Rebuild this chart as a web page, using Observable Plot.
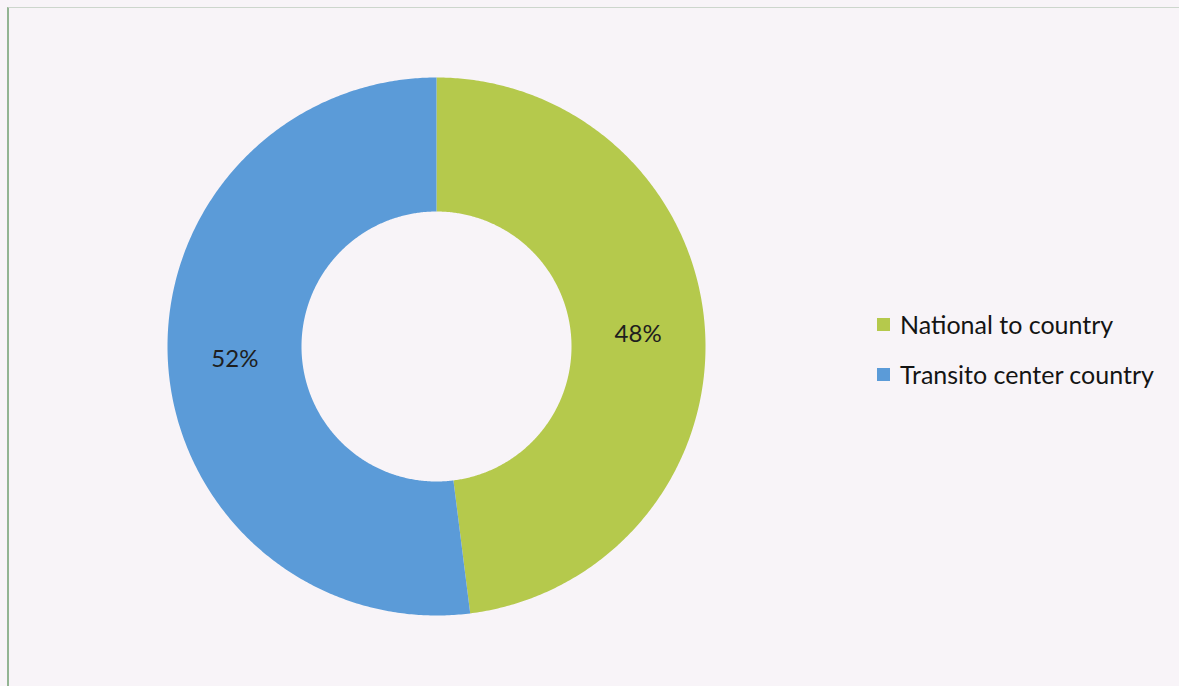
<!DOCTYPE html>
<html>
<head>
<meta charset="utf-8">
<script src="https://cdn.jsdelivr.net/npm/d3@7"></script>
<script src="https://cdn.jsdelivr.net/npm/@observablehq/plot@0.6"></script>
<style>
  html, body { margin: 0; padding: 0; background: #f8f4f8; }
  #wrap { position: relative; width: 1179px; height: 686px; overflow: hidden; background: #f8f4f8; }
  #frame { position: absolute; left: 7px; top: 7px; width: 1200px; height: 700px;
           border-left: 2px solid #93b493; border-top: 1px solid #cdd6cd; }
  #chart { position: absolute; left: 0; top: 0; }
  #legend { position: absolute; left: 877px; top: 309px; font-family: Lato, "Open Sans", sans-serif;
            font-size: 25px; color: #141414; }
  .item { display: flex; align-items: center; height: 30px; margin-bottom: 20px; }
  .sw { width: 13px; height: 13px; margin-right: 10px; }
</style>
</head>
<body>
<div id="wrap">
  <div id="frame"></div>
  <div id="chart"></div>
  <div id="legend"></div>
</div>
<script>
const categories = ["National to country", "Transito center country"];
const values = [48, 52];
const labels = ["48%", "52%"];
const colors = ["#b5c94c", "#5b9bd8"];

const innerRatio = 135 / 269;

// Build slice geometry from pie angles
const pie = d3.pie().sort(null).value(d => d.value);
const arcs = pie(categories.map((c, i) => ({category: c, value: values[i], label: labels[i]})));

const outline = [];
const centroids = [];
for (const a of arcs) {
  const n = Math.max(2, Math.ceil((a.endAngle - a.startAngle) / (Math.PI / 360)));
  for (let k = 0; k <= n; k++) {
    const t = a.startAngle + (a.endAngle - a.startAngle) * k / n;
    outline.push({category: a.data.category, x: Math.sin(t), y: Math.cos(t)});
  }
  for (let k = n; k >= 0; k--) {
    const t = a.startAngle + (a.endAngle - a.startAngle) * k / n;
    outline.push({category: a.data.category, x: innerRatio * Math.sin(t), y: innerRatio * Math.cos(t)});
  }
  const mid = (a.startAngle + a.endAngle) / 2;
  const rm = (1 + innerRatio) / 2;
  centroids.push({label: a.data.label, x: rm * Math.sin(mid), y: rm * Math.cos(mid)});
}

const cx = 436, cy = 346, R = 269;
const chart = Plot.plot({
  width: 1179,
  height: 686,
  margin: 0,
  style: {background: "transparent", overflow: "visible"},
  x: {domain: [-1, 1], range: [cx - R, cx + R], axis: null},
  y: {domain: [-1, 1], range: [cy + R, cy - R], axis: null},
  color: {domain: categories, range: colors},
  marks: [
    Plot.line(outline, {x: "x", y: "y", z: "category", fill: "category", stroke: "none", curve: "linear-closed"}),
    Plot.text(centroids, {x: "x", y: "y", text: "label", fontSize: 24, fill: "#1e1e1e",
      fontFamily: "Lato, 'Open Sans', sans-serif"})
  ]
});
document.getElementById("chart").appendChild(chart);

const legend = document.getElementById("legend");
categories.forEach((c, i) => {
  const it = document.createElement("div");
  it.className = "item";
  it.innerHTML = `<div class="sw" style="background:${colors[i]}"></div><span>${c}</span>`;
  legend.appendChild(it);
});
</script>
</body>
</html>
